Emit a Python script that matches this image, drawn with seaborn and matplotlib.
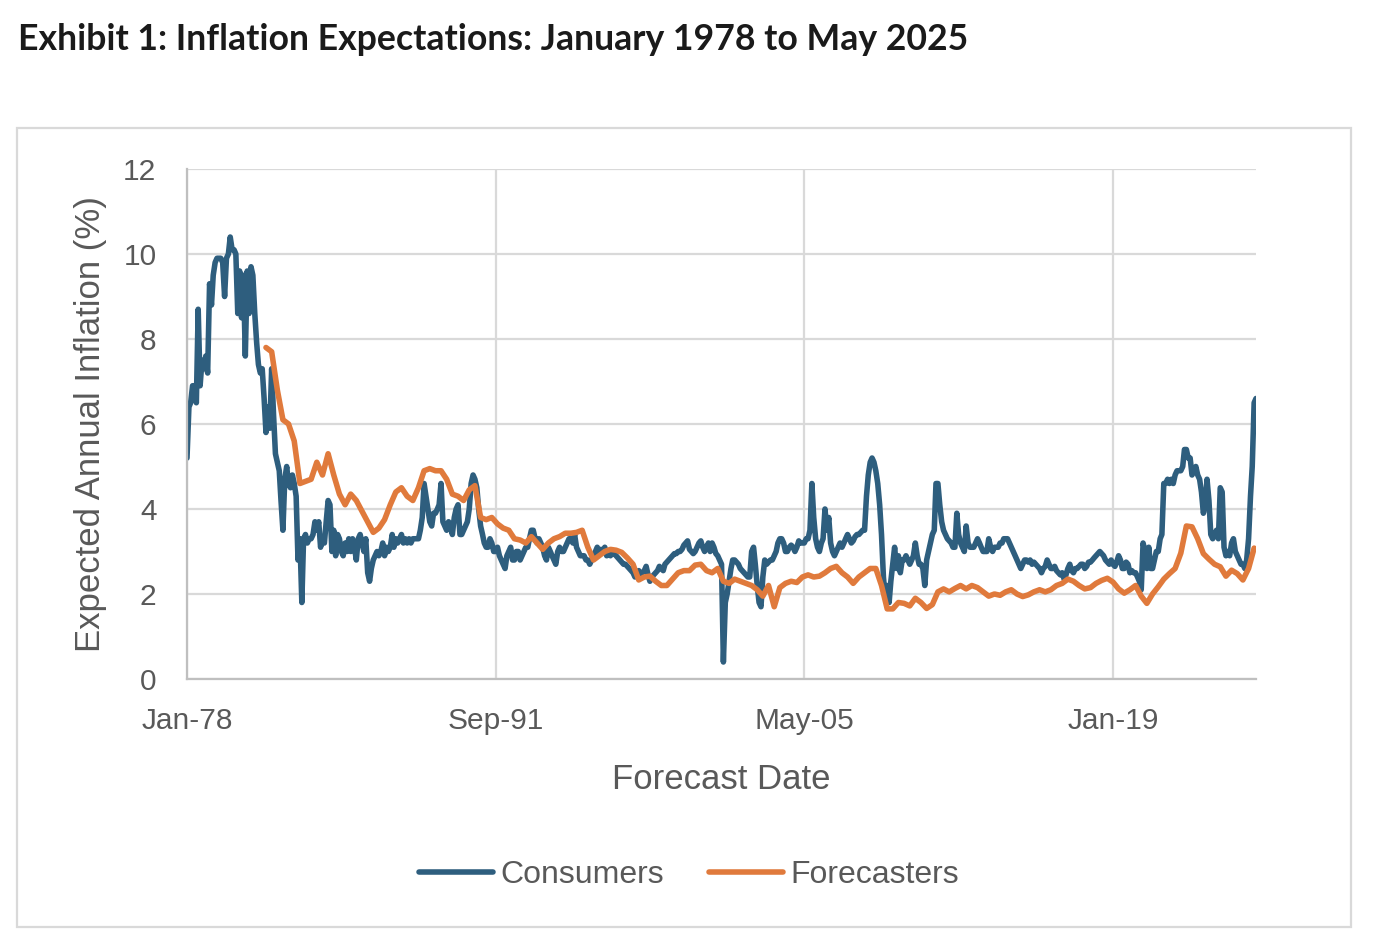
import pandas as pd
import matplotlib.pyplot as plt
from matplotlib.patches import Rectangle
import seaborn as sns

# monthly consumer expectations, Jan 1978 .. May 2025
consumers = [
    5.2, 6.4, 6.5, 6.9, 6.9, 6.5, 8.7, 6.9, 7.5, 7.3, 7.6, 7.2,  # 1978
    9.3, 8.8, 9.5, 9.8, 9.9, 9.9, 9.9, 9.8, 9.0, 9.9, 10.0, 10.4,  # 1979
    10.1, 10.1, 10.0, 8.6, 9.6, 8.5, 9.5, 7.6, 9.6, 8.6, 9.7, 9.5,  # 1980
    8.6, 7.9, 7.4, 7.2, 7.3, 6.6, 5.8, 6.4, 5.9, 7.3, 6.2, 5.3,  # 1981
    5.1, 4.9, 4.2, 3.5, 4.7, 5.0, 4.6, 4.5, 4.8, 4.6, 4.3, 2.8,  # 1982
    3.3, 1.8, 3.3, 3.4, 3.2, 3.3, 3.3, 3.4, 3.7, 3.5, 3.7, 3.1,  # 1983
    3.3, 3.2, 3.7, 4.2, 4.1, 3.0, 3.5, 2.9, 3.4, 3.3, 3.0, 2.9,  # 1984
    3.2, 3.0, 3.3, 3.0, 3.3, 3.1, 2.8, 3.3, 3.4, 3.2, 3.0, 3.3,  # 1985
    2.5, 2.3, 2.6, 2.8, 2.9, 3.0, 2.9, 3.0, 3.2, 2.9, 3.1, 3.0,  # 1986
    3.1, 3.4, 3.1, 3.3, 3.2, 3.3, 3.4, 3.2, 3.3, 3.2, 3.3, 3.2,  # 1987
    3.3, 3.3, 3.3, 3.3, 3.5, 3.8, 4.6, 4.3, 4.0, 3.7, 3.6, 3.9,  # 1988
    3.9, 4.0, 4.1, 4.6, 3.7, 3.6, 3.5, 3.7, 3.6, 3.4, 3.8, 4.0,  # 1989
    4.1, 3.4, 3.4, 3.5, 3.6, 3.7, 4.0, 4.6, 4.8, 4.7, 4.5, 4.0,  # 1990
    3.6, 3.4, 3.2, 3.1, 3.1, 3.3, 3.2, 3.0, 3.0, 3.1, 2.9, 2.8,  # 1991
    2.7, 2.6, 2.9, 3.0, 3.1, 2.8, 2.8, 3.0, 3.0, 2.8, 2.9, 3.0,  # 1992
    3.1, 3.1, 3.3, 3.5, 3.5, 3.3, 3.2, 3.3, 3.2, 3.1, 2.9, 2.8,  # 1993
    3.1, 3.0, 2.9, 2.8, 2.7, 3.0, 3.1, 3.0, 3.0, 3.1, 3.2, 3.3,  # 1994
    3.3, 3.2, 3.4, 3.1, 3.0, 2.9, 2.9, 2.9, 2.8, 2.8, 2.7, 2.8,  # 1995
    2.9, 3.0, 3.1, 2.95, 3.05, 3.0, 3.1, 2.9, 3.0, 2.9, 3.0, 2.95,  # 1996
    2.9, 2.85, 2.8, 2.75, 2.7, 2.7, 2.65, 2.6, 2.55, 2.5, 2.4, 2.5,  # 1997
    2.55, 2.45, 2.5, 2.55, 2.65, 2.45, 2.3, 2.4, 2.45, 2.5, 2.55, 2.65,  # 1998
    2.6, 2.55, 2.7, 2.75, 2.8, 2.85, 2.9, 2.95, 2.95, 3.0, 3.0, 3.05,  # 1999
    3.15, 3.2, 3.25, 3.05, 3.0, 2.95, 3.0, 3.1, 3.2, 3.25, 3.1, 3.0,  # 2000
    3.1, 3.2, 3.0, 3.2, 3.1, 2.95, 2.9, 2.8, 2.7, 0.4, 1.8, 2.0,  # 2001
    2.3, 2.6, 2.8, 2.8, 2.75, 2.7, 2.6, 2.55, 2.5, 2.45, 2.4, 2.4,  # 2002
    3.0, 3.1, 2.7, 2.2, 1.8, 1.7, 2.4, 2.8, 2.7, 2.75, 2.8, 2.8,  # 2003
    2.9, 3.0, 3.2, 3.3, 3.3, 3.2, 3.0, 3.0, 3.1, 3.15, 3.1, 3.0,  # 2004
    3.1, 3.25, 3.2, 3.2, 3.2, 3.3, 3.3, 3.5, 4.6, 3.8, 3.3, 3.1,  # 2005
    3.0, 3.2, 3.3, 4.0, 3.5, 3.8, 3.2, 3.0, 2.9, 3.0, 3.1, 3.2,  # 2006
    3.1, 3.2, 3.3, 3.4, 3.3, 3.2, 3.25, 3.35, 3.4, 3.4, 3.45, 3.5,  # 2007
    3.5, 4.3, 4.8, 5.1, 5.2, 5.1, 4.9, 4.6, 4.1, 3.4, 2.4, 1.9,  # 2008
    2.2, 1.8, 2.3, 2.7, 3.1, 2.6, 2.9, 2.5, 2.8, 2.8, 2.9, 2.8,  # 2009
    2.7, 2.8, 2.9, 3.2, 2.9, 2.7, 2.7, 2.6, 2.2, 2.8, 3.0, 3.2,  # 2010
    3.4, 3.5, 4.6, 4.6, 4.1, 3.7, 3.5, 3.4, 3.3, 3.25, 3.2, 3.1,  # 2011
    3.1, 3.9, 3.4, 3.2, 3.1, 3.0, 3.6, 3.2, 3.1, 3.1, 3.1, 3.2,  # 2012
    3.3, 3.2, 3.1, 3.0, 3.0, 3.0, 3.3, 3.1, 3.0, 3.1, 3.1, 3.1,  # 2013
    3.2, 3.2, 3.3, 3.3, 3.3, 3.2, 3.1, 3.0, 2.9, 2.8, 2.7, 2.6,  # 2014
    2.7, 2.8, 2.8, 2.75, 2.8, 2.7, 2.75, 2.7, 2.65, 2.6, 2.5, 2.6,  # 2015
    2.65, 2.8, 2.7, 2.6, 2.6, 2.65, 2.55, 2.5, 2.45, 2.5, 2.35, 2.45,  # 2016
    2.6, 2.7, 2.55, 2.5, 2.6, 2.6, 2.65, 2.7, 2.7, 2.6, 2.65, 2.75,  # 2017
    2.75, 2.8, 2.85, 2.9, 2.95, 3.0, 2.95, 2.9, 2.8, 2.75, 2.7, 2.8,  # 2018
    2.7, 2.65, 2.75, 2.9, 2.8, 2.6, 2.6, 2.75, 2.7, 2.5, 2.55, 2.5,  # 2019
    2.5, 2.4, 2.3, 2.1, 3.2, 3.0, 2.6, 3.1, 2.6, 2.6, 2.8, 3.0,  # 2020
    3.0, 3.3, 3.4, 4.6, 4.6, 4.7, 4.6, 4.7, 4.6, 4.8, 4.9, 4.9,  # 2021
    4.9, 5.0, 5.4, 5.4, 5.2, 5.2, 4.8, 4.9, 5.0, 4.8, 4.7, 4.4,  # 2022
    3.9, 4.1, 4.7, 4.2, 3.4, 3.3, 3.4, 3.5, 3.3, 4.5, 4.4, 3.1,  # 2023
    2.9, 3.0, 2.9, 3.2, 3.3, 3.0, 2.9, 2.8, 2.7, 2.7, 2.6, 2.8,  # 2024
    3.3, 4.3, 5.0, 6.5, 6.6,  # 2025
]

# quarterly professional forecasts, Jul 1981 .. Apr 2025
forecasters = [
    7.8, 7.7, 6.8, 6.1, 6.0, 5.6, 4.6, 4.65, 4.7, 5.1,
    4.8, 5.3, 4.8, 4.35, 4.1, 4.35, 4.2, 3.95, 3.7, 3.45,
    3.55, 3.75, 4.1, 4.4, 4.5, 4.3, 4.2, 4.5, 4.9, 4.95,
    4.9, 4.9, 4.7, 4.35, 4.3, 4.2, 4.45, 4.55, 3.8, 3.75,
    3.8, 3.65, 3.55, 3.5, 3.3, 3.27, 3.2, 3.35, 3.2, 3.05,
    3.2, 3.3, 3.35, 3.43, 3.43, 3.45, 3.5, 3.1, 2.8, 2.9,
    3.0, 3.05, 3.03, 2.98, 2.85, 2.7, 2.33, 2.4, 2.42, 2.3,
    2.2, 2.2, 2.35, 2.5, 2.55, 2.55, 2.68, 2.7, 2.55, 2.5,
    2.6, 2.3, 2.25, 2.35, 2.3, 2.25, 2.2, 2.1, 1.95, 2.2,
    1.7, 2.15, 2.25, 2.3, 2.27, 2.4, 2.45, 2.4, 2.42, 2.5,
    2.6, 2.65, 2.5, 2.4, 2.25, 2.4, 2.5, 2.6, 2.6, 2.2,
    1.65, 1.65, 1.8, 1.78, 1.72, 1.9, 1.8, 1.66, 1.75, 2.05,
    2.12, 2.05, 2.13, 2.2, 2.12, 2.2, 2.15, 2.05, 1.95, 2.0,
    1.97, 2.05, 2.1, 2.0, 1.94, 1.98, 2.05, 2.1, 2.05, 2.1,
    2.2, 2.25, 2.35, 2.3, 2.2, 2.12, 2.15, 2.25, 2.32, 2.37,
    2.28, 2.12, 2.02, 2.1, 2.2, 1.95, 1.78, 2.0, 2.17, 2.35,
    2.48, 2.6, 2.96, 3.6, 3.58, 3.3, 2.95, 2.82, 2.7, 2.64,
    2.42, 2.56, 2.48, 2.33, 2.6, 3.08,
]

series_names = ["Consumers", "Forecasters"]
series_colors = ["#2E5E7E", "#E07A3C"]
tick_dates = ["1978-01-01", "1991-09-01", "2005-05-01", "2019-01-01"]
tick_labels = ["Jan-78", "Sep-91", "May-05", "Jan-19"]
y_ticks = [0, 2, 4, 6, 8, 10, 12]

df_c = pd.DataFrame({
    "date": pd.date_range("1978-01-01", periods=len(consumers), freq="MS"),
    "value": consumers,
    "series": series_names[0],
})
df_f = pd.DataFrame({
    "date": pd.date_range("1981-07-01", periods=len(forecasters), freq="3MS"),
    "value": forecasters,
    "series": series_names[1],
})
df = pd.concat([df_c, df_f], ignore_index=True)

sns.set_theme(style="white")
plt.rcParams["font.family"] = ["Liberation Sans", "DejaVu Sans"]

W, H = 1384, 952
fig = plt.figure(figsize=(W / 100, H / 100), dpi=100)
ax = fig.add_axes([187 / W, 1 - 679 / H, (1256 - 187) / W, (679 - 169) / H])

sns.lineplot(
    data=df, x="date", y="value", hue="series",
    palette=dict(zip(series_names, series_colors)),
    linewidth=4.0, errorbar=None, ax=ax,
)

ax.set_xlim(df_c["date"].iloc[0], df_c["date"].iloc[-1])
ax.set_ylim(0, 12)
ax.set_yticks(y_ticks)
ax.set_xticks(pd.to_datetime(tick_dates))
ax.set_xticklabels(tick_labels)

grey = "#595959"
ax.tick_params(axis="both", length=0, labelsize=21.5, labelcolor=grey)
ax.tick_params(axis="y", pad=22)
ax.tick_params(axis="x", pad=20)
ax.grid(True, color="#d9d9d9", linewidth=1.6)
ax.set_axisbelow(True)
for side in ["top", "right"]:
    ax.spines[side].set_visible(False)
for side in ["left", "bottom"]:
    ax.spines[side].set_color("#bfbfbf")
    ax.spines[side].set_linewidth(1.6)

ax.set_xlabel("Forecast Date", fontsize=25, color=grey, labelpad=20)
ax.set_ylabel("Expected Annual Inflation (%)", fontsize=25, color=grey, labelpad=12)

handles, labels = ax.get_legend_handles_labels()
ax.legend(
    handles, labels, loc="center", bbox_to_anchor=(0.498, 1 - 875 / H),
    bbox_transform=fig.transFigure, ncol=2, frameon=False, fontsize=23,
    labelcolor=grey, handlelength=2.3, handletextpad=0.25, columnspacing=1.4,
)

# outer chart frame
fig.add_artist(Rectangle(
    (17 / W, 1 - 927 / H), (1351 - 17) / W, (927 - 128) / H,
    transform=fig.transFigure, fill=False, edgecolor="#d9d9d9", linewidth=1.6,
))

fig.text(18 / W, 1 - 39 / H, "Exhibit 1: Inflation Expectations: January 1978 to May 2025",
         fontsize=25.7, fontweight="bold", family=["Lato", "DejaVu Sans"],
         color="#1a1a1a", va="center", ha="left")

fig.savefig("out.png", dpi=100)
